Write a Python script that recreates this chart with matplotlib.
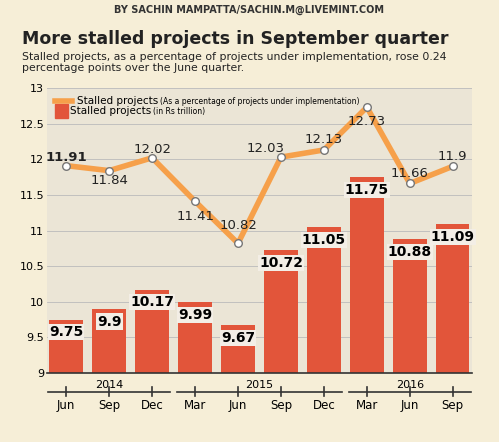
import matplotlib.pyplot as plt
import matplotlib.transforms as mtrans
import numpy as np

months = ["Jun", "Sep", "Dec", "Mar", "Jun", "Sep", "Dec", "Mar", "Jun", "Sep"]
years = ["2014", "2015", "2016"]
year_spans = [(0, 2), (3, 6), (7, 9)]
pct = [11.91, 11.84, 12.02, 11.41, 10.82, 12.03, 12.13, 12.73, 11.66, 11.9]
trillion = [9.75, 9.9, 10.17, 9.99, 9.67, 10.72, 11.05, 11.75, 10.88, 11.09]

BG = "#f6eed7"
BAR = "#e2553a"
LINE = "#f6a04a"

fig = plt.figure(figsize=(4.99, 4.42), dpi=100, facecolor=BG)
ax = fig.add_axes([0.094, 0.156, 0.852, 0.645])
ax.set_facecolor("#ebe5d6")
x = np.arange(len(months))

ax.bar(x, np.array(trillion) - 9, bottom=9, width=0.78, color=BAR, zorder=2)
ax.plot(x, pct, color=LINE, lw=4, zorder=3)
ax.scatter(x, pct, s=30, facecolor="white", edgecolor="#777777", lw=1, zorder=4)

for i, v in enumerate(trillion):
    ax.text(i, v - 0.08, f"{v:g}", ha="center", va="top", fontsize=10, fontweight="bold",
            bbox=dict(boxstyle="square,pad=0.08", fc="#f3eee6", ec="none"), zorder=5)

offs = [(0, 0.12), (0, -0.14), (0, 0.12), (0, -0.22), (0, 0.25), (-0.35, 0.12),
        (0, 0.14), (0, -0.2), (0, 0.14), (0, 0.14)]
for i, v in enumerate(pct):
    dx, dy = offs[i]
    ax.text(i + dx, v + dy, f"{v:g}", ha="center", va="center", fontsize=9.5,
            fontweight="bold" if i == 0 else "normal", color="#222222", zorder=5)

ax.set_xlim(-0.45, 9.45)
ax.set_ylim(9, 13)
ax.set_yticks([9, 9.5, 10, 10.5, 11, 11.5, 12, 12.5, 13])
ax.set_yticklabels(["9", "9.5", "10", "10.5", "11", "11.5", "12", "12.5", "13"], fontsize=8)
ax.tick_params(axis="y", length=0, pad=2)
ax.grid(axis="y", color="#bbbbbb", lw=0.6, zorder=0)
ax.set_xticks([])
for s in ["top", "right", "left"]:
    ax.spines[s].set_visible(False)
ax.spines["bottom"].set_color("#333333")
ax.spines["bottom"].set_linewidth(1.2)

tr = mtrans.blended_transform_factory(ax.transData, ax.transAxes)
for (a, b), yr in zip(year_spans, years):
    ax.plot([a - 0.42, b + 0.42], [-0.065, -0.065], color="#333333", lw=1.2, transform=tr, clip_on=False)
    ax.text((a + b) / 2, -0.06, yr, ha="center", va="bottom", fontsize=8, transform=tr)
for i, m in enumerate(months):
    ax.plot([i, i], [-0.05, -0.08], color="#333333", lw=1.2, transform=tr, clip_on=False)
    ax.text(i, -0.09, m, ha="center", va="top", fontsize=8.5, transform=tr)

ax.plot([0.02, 0.06], [0.955, 0.955], color=LINE, lw=4, transform=ax.transAxes)
ax.text(0.07, 0.955, "Stalled projects", fontsize=7.5, va="center", transform=ax.transAxes)
ax.text(0.265, 0.953, "(As a percentage of projects under implementation)", fontsize=5.5,
        va="center", transform=ax.transAxes)
ax.add_patch(plt.Rectangle((0.02, 0.895), 0.03, 0.05, color=BAR, transform=ax.transAxes))
ax.text(0.055, 0.92, "Stalled projects", fontsize=7.5, va="center", transform=ax.transAxes)
ax.text(0.25, 0.918, "(in Rs trillion)", fontsize=5.5, va="center", transform=ax.transAxes)

fig.text(0.045, 0.9, "More stalled projects in September quarter", fontsize=12.5,
         fontweight="bold", color="#222222")
fig.text(0.045, 0.84, "Stalled projects, as a percentage of projects under implementation, rose 0.24\n"
         "percentage points over the June quarter.", fontsize=7.8, color="#222222", linespacing=1.1)
fig.text(0.5, 0.99, "BY SACHIN MAMPATTA/SACHIN.M@LIVEMINT.COM", fontsize=7, fontweight="bold",
         ha="center", va="top", color="#333333")

fig.savefig("out.png", dpi=100, facecolor=BG)
